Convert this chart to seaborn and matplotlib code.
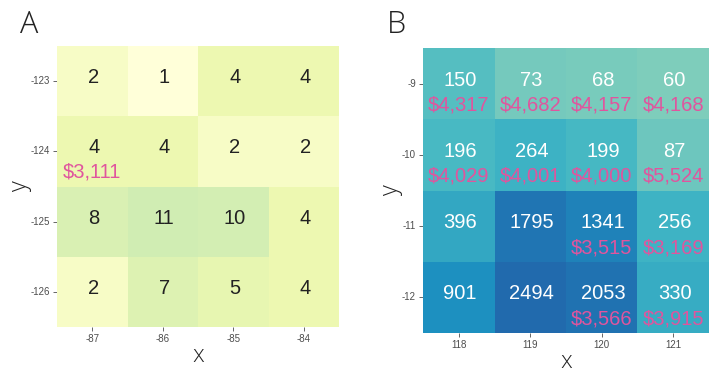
import numpy as np
import pandas as pd
import matplotlib
matplotlib.use("Agg")
import matplotlib.pyplot as plt
from matplotlib.colors import LogNorm, LinearSegmentedColormap
import seaborn as sns

# ---- data ----
a_x = [-87, -86, -85, -84]
a_y = [-123, -124, -125, -126]
a_counts = [
    [2, 1, 4, 4],
    [4, 4, 2, 2],
    [8, 11, 10, 4],
    [2, 7, 5, 4],
]
a_dollars = [
    [None, None, None, None],
    [3111, None, None, None],
    [None, None, None, None],
    [None, None, None, None],
]

b_x = [118, 119, 120, 121]
b_y = [-9, -10, -11, -12]
b_counts = [
    [150, 73, 68, 60],
    [196, 264, 199, 87],
    [396, 1795, 1341, 256],
    [901, 2494, 2053, 330],
]
b_dollars = [
    [4317, 4682, 4157, 4168],
    [4029, 4001, 4000, 5524],
    [None, None, 3515, 3169],
    [None, None, 3566, 3915],
]

sns.set_theme(style="white")
plt.rcParams['font.family'] = ['Liberation Sans', 'DejaVu Sans']

base = plt.get_cmap("YlGnBu")
cmap = LinearSegmentedColormap.from_list("ylgnbu_trunc", base(np.linspace(0, 0.72, 256)))
norm = LogNorm(vmin=1, vmax=2494)

PINK = "#E0559E"
LIGHTFONT = ["Open Sans", "Liberation Sans"]

fig = plt.figure(figsize=(7.25, 3.83), dpi=100)
axA = fig.add_axes([57/725, 1-327/383, (339-57)/725, (327-46)/383])
axB = fig.add_axes([423/725, 1-333/383, (709-423)/725, (333-48)/383])


def panel(ax, xs, ys, counts, dollars, txtcolor, title, title_x):
    df = pd.DataFrame(counts, index=ys, columns=xs)
    sns.heatmap(df, ax=ax, cmap=cmap, norm=norm, cbar=False,
                annot=False, linewidths=0, square=False)
    for i, row in enumerate(counts):
        for j, v in enumerate(row):
            ax.text(j + 0.52, i + 0.45, f"{v}", ha="center", va="center",
                    color=txtcolor, fontsize=14.5)
            d = dollars[i][j]
            if d is not None:
                ax.text(j + 0.5, i + 0.8, f"${d:,}", ha="center", va="center",
                        color=PINK, fontsize=14.5)
    ax.set_xticks(np.arange(len(xs)) + 0.5)
    ax.set_xticklabels([str(v) for v in xs], rotation=0)
    ax.set_yticks(np.arange(len(ys)) + 0.5)
    ax.set_yticklabels([str(v) for v in ys], rotation=0)
    ax.tick_params(axis="both", which="both", length=3, width=0.6,
                   colors="#4D4D4D", labelsize=7, pad=2,
                   bottom=True, left=True)
    for lab in ax.get_xticklabels() + ax.get_yticklabels():
        lab.set_color("#4D4D4D")
    ax.set_xlabel("x", fontsize=17, color="#222222", labelpad=0,
                  fontweight=300, family=LIGHTFONT)
    ax.set_ylabel("y", fontsize=17, color="#222222", labelpad=-1,
                  fontweight=300, family=LIGHTFONT)
    for s in ax.spines.values():
        s.set_visible(False)
    fig.text(title_x, 1 - 33/383, title, fontsize=22, color="#222222",
             fontweight=300, family=LIGHTFONT,
             ha="left", va="baseline")


panel(axA, a_x, a_y, a_counts, a_dollars, "#222222", "A", 20/725)
panel(axB, b_x, b_y, b_counts, b_dollars, "white", "B", 387/725)

fig.savefig("out.png", dpi=100)
